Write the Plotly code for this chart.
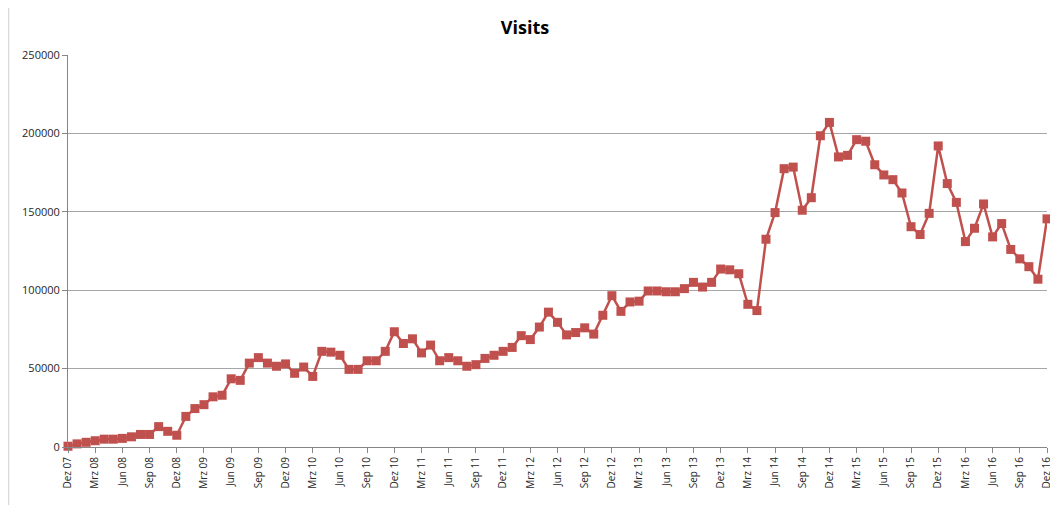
import plotly.graph_objects as go

months = [
    "Dez 07",
    "Jan 08", "Feb 08", "Mrz 08", "Apr 08", "Mai 08", "Jun 08", "Jul 08", "Aug 08", "Sep 08", "Okt 08", "Nov 08", "Dez 08",
    "Jan 09", "Feb 09", "Mrz 09", "Apr 09", "Mai 09", "Jun 09", "Jul 09", "Aug 09", "Sep 09", "Okt 09", "Nov 09", "Dez 09",
    "Jan 10", "Feb 10", "Mrz 10", "Apr 10", "Mai 10", "Jun 10", "Jul 10", "Aug 10", "Sep 10", "Okt 10", "Nov 10", "Dez 10",
    "Jan 11", "Feb 11", "Mrz 11", "Apr 11", "Mai 11", "Jun 11", "Jul 11", "Aug 11", "Sep 11", "Okt 11", "Nov 11", "Dez 11",
    "Jan 12", "Feb 12", "Mrz 12", "Apr 12", "Mai 12", "Jun 12", "Jul 12", "Aug 12", "Sep 12", "Okt 12", "Nov 12", "Dez 12",
    "Jan 13", "Feb 13", "Mrz 13", "Apr 13", "Mai 13", "Jun 13", "Jul 13", "Aug 13", "Sep 13", "Okt 13", "Nov 13", "Dez 13",
    "Jan 14", "Feb 14", "Mrz 14", "Apr 14", "Mai 14", "Jun 14", "Jul 14", "Aug 14", "Sep 14", "Okt 14", "Nov 14", "Dez 14",
    "Jan 15", "Feb 15", "Mrz 15", "Apr 15", "Mai 15", "Jun 15", "Jul 15", "Aug 15", "Sep 15", "Okt 15", "Nov 15", "Dez 15",
    "Jan 16", "Feb 16", "Mrz 16", "Apr 16", "Mai 16", "Jun 16", "Jul 16", "Aug 16", "Sep 16", "Okt 16", "Nov 16", "Dez 16",
]

visits = [
    500,
    2000, 3000, 4000, 5000, 5000, 5500, 6500, 8000, 8000, 13000, 10000, 7500,
    19500, 24500, 27000, 32000, 33000, 43500, 42500, 53500, 57000, 53500, 51500, 53000,
    47000, 51000, 45000, 61000, 60500, 58500, 49500, 49500, 55000, 55000, 61000, 73500,
    66000, 69000, 60000, 65000, 55000, 57000, 55000, 51500, 52500, 56500, 58500, 61000,
    63500, 71000, 68500, 76500, 86000, 79500, 71500, 73000, 76000, 72000, 84000, 96500,
    86500, 92500, 93000, 99500, 99500, 99000, 99000, 101000, 105000, 102000, 105000, 113500,
    113000, 110500, 91000, 87000, 132500, 149500, 177500, 178500, 151000, 159000, 198500, 207000,
    185000, 186000, 196000, 195000, 180000, 173500, 170500, 162000, 140500, 135500, 149000, 192000,
    168000, 156000, 131000, 139500, 155000, 134000, 142500, 126000, 120000, 115000, 107000, 145500,
]

tick_labels = months[::3]
y_ticks = [0, 50000, 100000, 150000, 200000, 250000]

color = "#C0504D"
font_family = "Open Sans, Liberation Sans, Arial, sans-serif"

# page body has an 8px margin, so the figure is sized to fit inside the window
W, H = 1050, 497
L, R, T, B = 60, 11, 47, 58
PW, PH = W - L - R, H - T - B

fig = go.Figure()
fig.add_trace(go.Scatter(
    x=list(range(len(months))),
    y=visits,
    mode="lines+markers",
    line=dict(color=color, width=2.5),
    marker=dict(symbol="square", size=9, color=color),
    cliponaxis=False,
    hovertext=months,
    showlegend=False,
))

fig.update_layout(
    width=W,
    height=H,
    margin=dict(l=L, r=R, t=T, b=B, autoexpand=False),
    paper_bgcolor="white",
    plot_bgcolor="white",
    title=dict(text="<b>Visits</b>", x=(525 - 8) / W, xanchor="center", y=1 - 20 / H, yanchor="middle",
               font=dict(family=font_family, size=18, color="#000000")),
    font=dict(family=font_family, size=10, color="#262626"),
)

fig.update_xaxes(
    range=[0, len(months) - 1],
    tickmode="array",
    tickvals=list(range(0, len(months), 3)),
    ticktext=tick_labels,
    tickangle=-90,
    ticks="outside",
    ticklen=5,
    tickcolor="#868686",
    showline=True,
    linecolor="#868686",
    linewidth=1,
    showgrid=False,
    zeroline=False,
    tickfont=dict(size=10, color="#262626"),
)

fig.update_yaxes(
    range=[0, 250000],
    tickmode="array",
    tickvals=y_ticks,
    ticktext=[str(v) for v in y_ticks],
    ticks="outside",
    ticklen=5,
    tickcolor="#868686",
    showline=True,
    linecolor="#868686",
    linewidth=1,
    showgrid=True,
    gridcolor="#A6A6A6",
    gridwidth=1,
    zeroline=False,
    tickfont=dict(size=11, color="#262626"),
)

# outer chart frame (left and right edges)
for xpix in (0.5, 1047):
    fig.add_shape(type="line", xref="paper", yref="paper",
                  x0=(xpix - L) / PW, x1=(xpix - L) / PW,
                  y0=-(B + 5) / PH, y1=(PH + T + 5) / PH,
                  line=dict(color="#D9D9D9", width=1.5), layer="below")

fig.write_html("out.html")
